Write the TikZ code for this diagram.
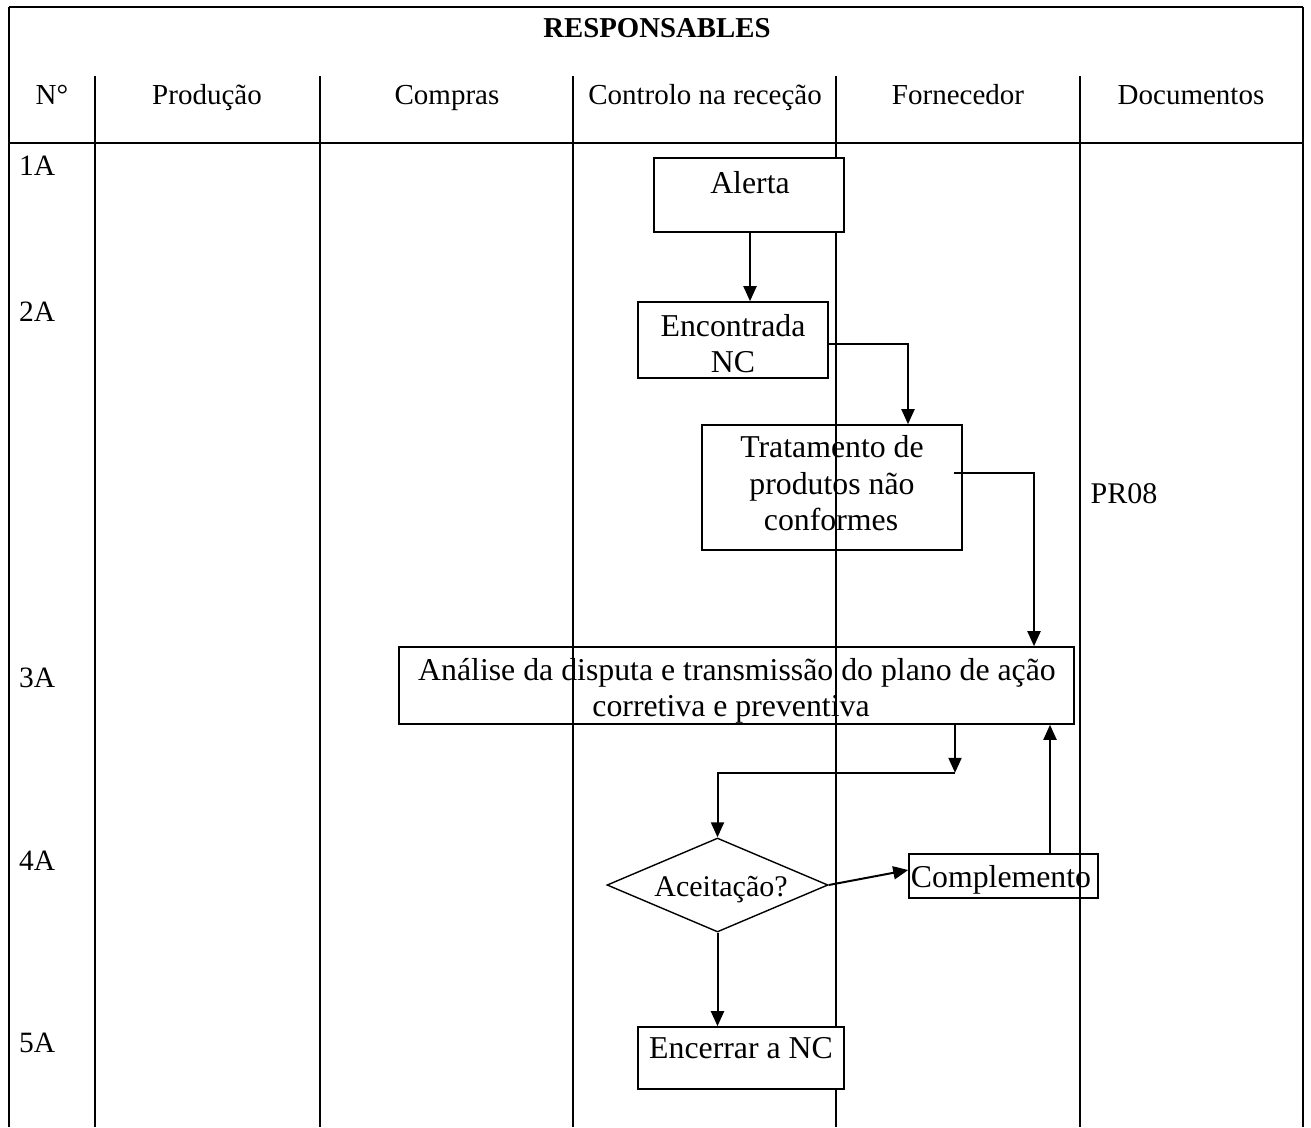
\documentclass[tikz,border=0pt]{standalone}
\usepackage{fontspec}
\setmainfont{Liberation Serif}
\usetikzlibrary{shapes.geometric,arrows.meta,calc}
\begin{document}
\begin{tikzpicture}[x=1pt,y=-1pt,
  rule/.style={line width=1.6pt},
  heavyrule/.style={line width=2.4pt},
  box/.style={draw,line width=1.6pt,inner sep=0pt},
  solidbox/.style={box,fill=white},
  txt/.style={font=\fontsize{31.8}{36}\selectfont,inner sep=0pt,anchor=base},
  hdr/.style={font=\fontsize{29}{34}\selectfont,inner sep=0pt,anchor=base},
  rowlbl/.style={font=\fontsize{29.5}{34}\selectfont,inner sep=0pt,anchor=base west},
  arr/.style={line width=2pt,-{Triangle[length=15pt,width=13pt]}}]
\useasboundingbox (0,0) rectangle (1311,1127);

% table frame and lane separators
\draw[heavyrule] (9,7) -- (1303,7);
\draw[rule] (9,7) -- (9,1127);
\draw[rule] (1303,7) -- (1303,1127);
\draw[heavyrule] (9,143) -- (1303,143);
\foreach \x in {95,320,573,836,1080}
  \draw[rule] (\x,76) -- (\x,1127);

% header texts
\node[hdr,font=\bfseries\fontsize{28.8}{34}\selectfont] (title) at (657,37) {RESPONSABLES};
\node[hdr] (hN) at (52,104) {N°};
\node[hdr] (hP) at (207,104) {Produção};
\node[hdr] (hC) at (447,104) {Compras};
\node[hdr] (hR) at (705,104) {Controlo na receção};
\node[hdr] (hF) at (958,104) {Fornecedor};
\node[hdr] (hD) at (1191,104) {Documentos};

% step numbers
\node[rowlbl] (r1) at (19,175) {1A};
\node[rowlbl] (r2) at (19,321) {2A};
\node[rowlbl] (r3) at (19,687) {3A};
\node[rowlbl] (r4) at (19,870) {4A};
\node[rowlbl] (r5) at (19,1052) {5A};

% process boxes
\node[solidbox,minimum width=190pt,minimum height=74pt] (al) at (749,195) {};
\node[box,minimum width=190pt,minimum height=76pt] (en) at (733,340) {};
\node[box,minimum width=260pt,minimum height=125pt] (tr) at (832,487.5) {};
\node[box,minimum width=675pt,minimum height=77pt] (an) at (736.5,685.5) {};
\node[box,line width=1.4pt,diamond,minimum width=221pt,minimum height=94pt] (dia) at (717.5,885) {};
\node[box,minimum width=189pt,minimum height=44pt] (cp) at (1003.5,876) {};
\node[solidbox,minimum width=206pt,minimum height=62pt] (enc) at (741,1058) {};

% box texts
\node[txt] (tal) at (750,193) {Alerta};
\node[txt] (ten1) at (733,336) {Encontrada};
\node[txt] (ten2) at (733,372) {NC};
\node[txt] (ttr1) at (832,457) {Tratamento de};
\node[txt] (ttr2) at (832,494) {produtos não};
\node[txt] (ttr3) at (831,530) {conformes};
\node[txt] (tan1) at (737,680) {Análise da disputa e transmissão do plano de ação};
\node[txt] (tan2) at (731,716) {corretiva e preventiva};
\node[txt,font=\fontsize{30}{34}\selectfont] (tdia) at (721,896) {Aceitação?};
\node[txt] (tcp) at (1001,887) {Complemento};
\node[txt] (tenc) at (741,1058) {Encerrar a NC};
\node[txt,font=\fontsize{30}{34}\selectfont] (doc) at (1124,503) {PR08};

% connectors
\draw[arr] ([xshift=1pt]al.south) -- ([xshift=1pt]al.south |- en.north);
\draw[arr] ([yshift=-4pt]en.east) -| ([xshift=76pt]tr.north);
\draw[arr] ([shift={(-9pt,14.5pt)}]tr.east) -| ([xshift=297.5pt]an.north);
\coordinate (split) at ($(an.south)+(218.5,48)$);
\draw[arr] ([xshift=218.5pt]an.south) -- (split);
\draw[arr] (split) -| (dia.north);
\draw[arr] (dia.east) -- ([yshift=6pt]cp.west);
\draw[arr] ([xshift=46.5pt]cp.north) -- ([xshift=46.5pt]cp.north |- an.south);
\draw[arr] (dia.south) -- (dia.south |- enc.north);
\end{tikzpicture}
\end{document}
